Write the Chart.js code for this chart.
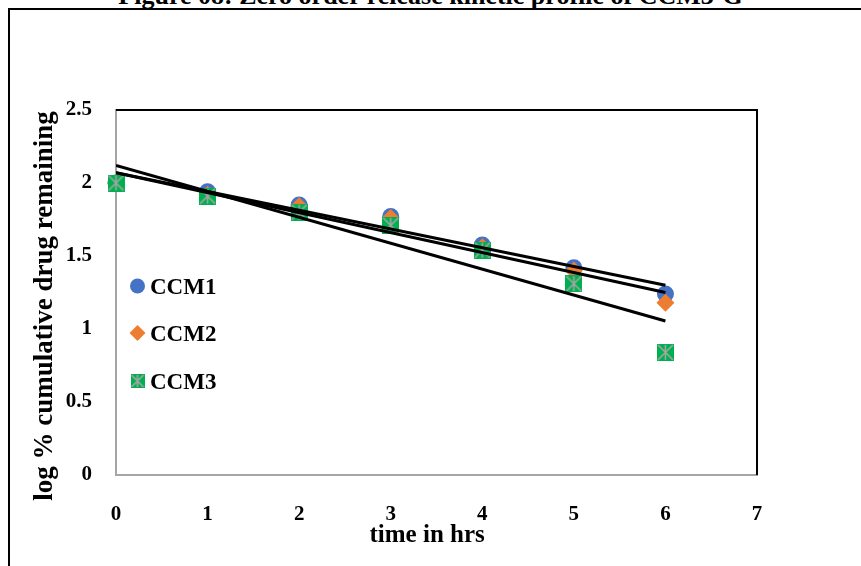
<!DOCTYPE html>
<html>
<head>
<meta charset="utf-8">
<script src="https://cdn.jsdelivr.net/npm/chart.js@4.4.1/dist/chart.umd.min.js"></script>
<style>
  html, body { margin: 0; padding: 0; background: #fff; overflow: hidden; }
  body { width: 861px; height: 566px; position: relative; }
  #frame { position: absolute; left: 8px; top: 8px; width: 900px; height: 600px; border: 2px solid #000; }
  #title {
    position: absolute; left: 0; top: -17px; width: 861px; text-align: center;
    font: bold 26px/26px 'Liberation Serif', 'Times New Roman', serif; color: #000;
  }
  #chart { position: absolute; left: 0; top: 0; }
</style>
</head>
<body>
<div id="frame"></div>
<div id="title">Figure 08: Zero order release kinetic profile of CCM3-G</div>
<canvas id="chart" width="861" height="566"></canvas>
<script>
// Data
const timeHrs = [0, 1, 2, 3, 4, 5, 6];
const ccm1 = [2.00, 1.94, 1.85, 1.77, 1.575, 1.42, 1.24];
const ccm2 = [2.00, 1.92, 1.84, 1.76, 1.56, 1.40, 1.18];
const ccm3 = [2.00, 1.91, 1.80, 1.71, 1.54, 1.31, 0.84];

// Trendline end points (x = 0 and x = 6)
const trendX = [0, 6];
const trendCcm1 = [2.07, 1.30];
const trendCcm2 = [2.07, 1.25];
const trendCcm3 = [2.12, 1.055];

const seriesNames = ['CCM1', 'CCM2', 'CCM3'];
const yTicks = [0, 0.5, 1, 1.5, 2, 2.5];

const FONT = "'Liberation Serif', 'Times New Roman', serif";
const BLUE = '#4472C4';
const ORANGE = '#ED7D31';
const GREEN = '#00B050';
const GREY = '#A5A5A5';

// Green square with grey star, like the Excel marker
function makeStarSquare(size) {
    const c = document.createElement('canvas');
    c.width = size;
    c.height = size;
    const g = c.getContext('2d');
    g.fillStyle = GREEN;
    g.fillRect(0, 0, size, size);
    g.strokeStyle = GREY;
    g.lineWidth = 1.6;
    g.beginPath();
    g.moveTo(1, 1); g.lineTo(size - 1, size - 1);
    g.moveTo(size - 1, 1); g.lineTo(1, size - 1);
    g.moveTo(size / 2, 1); g.lineTo(size / 2, size - 1);
    g.stroke();
    return c;
}

const starSquare = makeStarSquare(17);
const starSquareSmall = makeStarSquare(14);

const toPoints = (xs, ys) => xs.map((x, i) => ({ x: x, y: ys[i] }));

// Black frame on top and right of plot area
const plotFrame = {
    id: 'plotFrame',
    beforeDatasetsDraw(chart) {
        const { ctx, chartArea: a } = chart;
        ctx.save();
        ctx.strokeStyle = '#000';
        ctx.lineWidth = 2;
        ctx.beginPath();
        ctx.moveTo(a.left, a.top);
        ctx.lineTo(a.right, a.top);
        ctx.lineTo(a.right, a.bottom);
        ctx.stroke();
        ctx.restore();
    }
};

// Legend inside the plot, left side
const insideLegend = {
    id: 'insideLegend',
    afterDraw(chart) {
        const ctx = chart.ctx;
        const mx = 137.5;
        const rows = [286, 333, 381];
        ctx.save();
        // circle
        ctx.fillStyle = BLUE;
        ctx.beginPath();
        ctx.arc(mx, rows[0], 7.5, 0, Math.PI * 2);
        ctx.fill();
        // diamond
        ctx.fillStyle = ORANGE;
        ctx.beginPath();
        ctx.moveTo(mx, rows[1] - 8);
        ctx.lineTo(mx + 8, rows[1]);
        ctx.lineTo(mx, rows[1] + 8);
        ctx.lineTo(mx - 8, rows[1]);
        ctx.closePath();
        ctx.fill();
        // star square
        ctx.drawImage(starSquareSmall, mx - 7, rows[2] - 7);

        ctx.fillStyle = '#000';
        ctx.font = 'bold 23px ' + FONT;
        ctx.textBaseline = 'alphabetic';
        ctx.textAlign = 'left';
        seriesNames.forEach((name, i) => {
            ctx.fillText(name, 150, rows[i] + 8);
        });
        ctx.restore();
    }
};

new Chart(document.getElementById('chart'), {
    type: 'scatter',
    data: {
        datasets: [
            {
                label: 'trend CCM1',
                data: toPoints(trendX, trendCcm1),
                showLine: true,
                borderColor: '#000',
                borderWidth: 3,
                pointRadius: 0,
                order: 0
            },
            {
                label: 'trend CCM2',
                data: toPoints(trendX, trendCcm2),
                showLine: true,
                borderColor: '#000',
                borderWidth: 3,
                pointRadius: 0,
                order: 0
            },
            {
                label: 'trend CCM3',
                data: toPoints(trendX, trendCcm3),
                showLine: true,
                borderColor: '#000',
                borderWidth: 3,
                pointRadius: 0,
                order: 0
            },
            {
                label: seriesNames[2],
                data: toPoints(timeHrs, ccm3),
                pointStyle: starSquare,
                pointRadius: 8.5,
                clip: false,
                order: 1
            },
            {
                label: seriesNames[1],
                data: toPoints(timeHrs, ccm2),
                pointStyle: 'rectRot',
                pointRadius: 9,
                backgroundColor: ORANGE,
                borderColor: ORANGE,
                borderWidth: 0,
                clip: false,
                order: 2
            },
            {
                label: seriesNames[0],
                data: toPoints(timeHrs, ccm1),
                pointStyle: 'circle',
                pointRadius: 8.5,
                backgroundColor: BLUE,
                borderColor: BLUE,
                borderWidth: 0,
                clip: false,
                order: 3
            }
        ]
    },
    options: {
        responsive: false,
        animation: false,
        events: [],
        layout: { padding: { left: 0, top: 110, right: 104, bottom: 0 } },
        plugins: {
            legend: { display: false },
            tooltip: { enabled: false },
            title: { display: false }
        },
        scales: {
            x: {
                type: 'linear',
                min: 0,
                max: 7,
                ticks: {
                    stepSize: 1,
                    color: '#000',
                    padding: 27,
                    font: { family: FONT, size: 21, weight: 'bold' }
                },
                grid: { display: false, drawTicks: false },
                border: { display: true, color: GREY, width: 2 },
                title: {
                    display: true,
                    // trailing spaces nudge the centred title left, as in the original
                    text: 'time in hrs   ',
                    color: '#000',
                    padding: { top: 0, bottom: 15 },
                    font: { family: FONT, size: 25, weight: 'bold', lineHeight: 1.2 }
                },
                afterFit(scale) { scale.height = 91; }
            },
            y: {
                type: 'linear',
                min: 0,
                max: 2.5,
                afterBuildTicks(scale) { scale.ticks = yTicks.map(v => ({ value: v })); },
                ticks: {
                    color: '#000',
                    padding: 24,
                    font: { family: FONT, size: 21, weight: 'bold' },
                    callback: v => String(v)
                },
                grid: { display: false, drawTicks: false },
                border: { display: true, color: GREY, width: 2 },
                title: {
                    display: true,
                    text: 'log % cumulative drug remaining    ',
                    color: '#000',
                    padding: { top: 29, bottom: 0 },
                    font: { family: FONT, size: 27, weight: 'bold', lineHeight: 1.2 }
                },
                afterFit(scale) { scale.width = 116; }
            }
        }
    },
    plugins: [plotFrame, insideLegend]
});
</script>
</body>
</html>
